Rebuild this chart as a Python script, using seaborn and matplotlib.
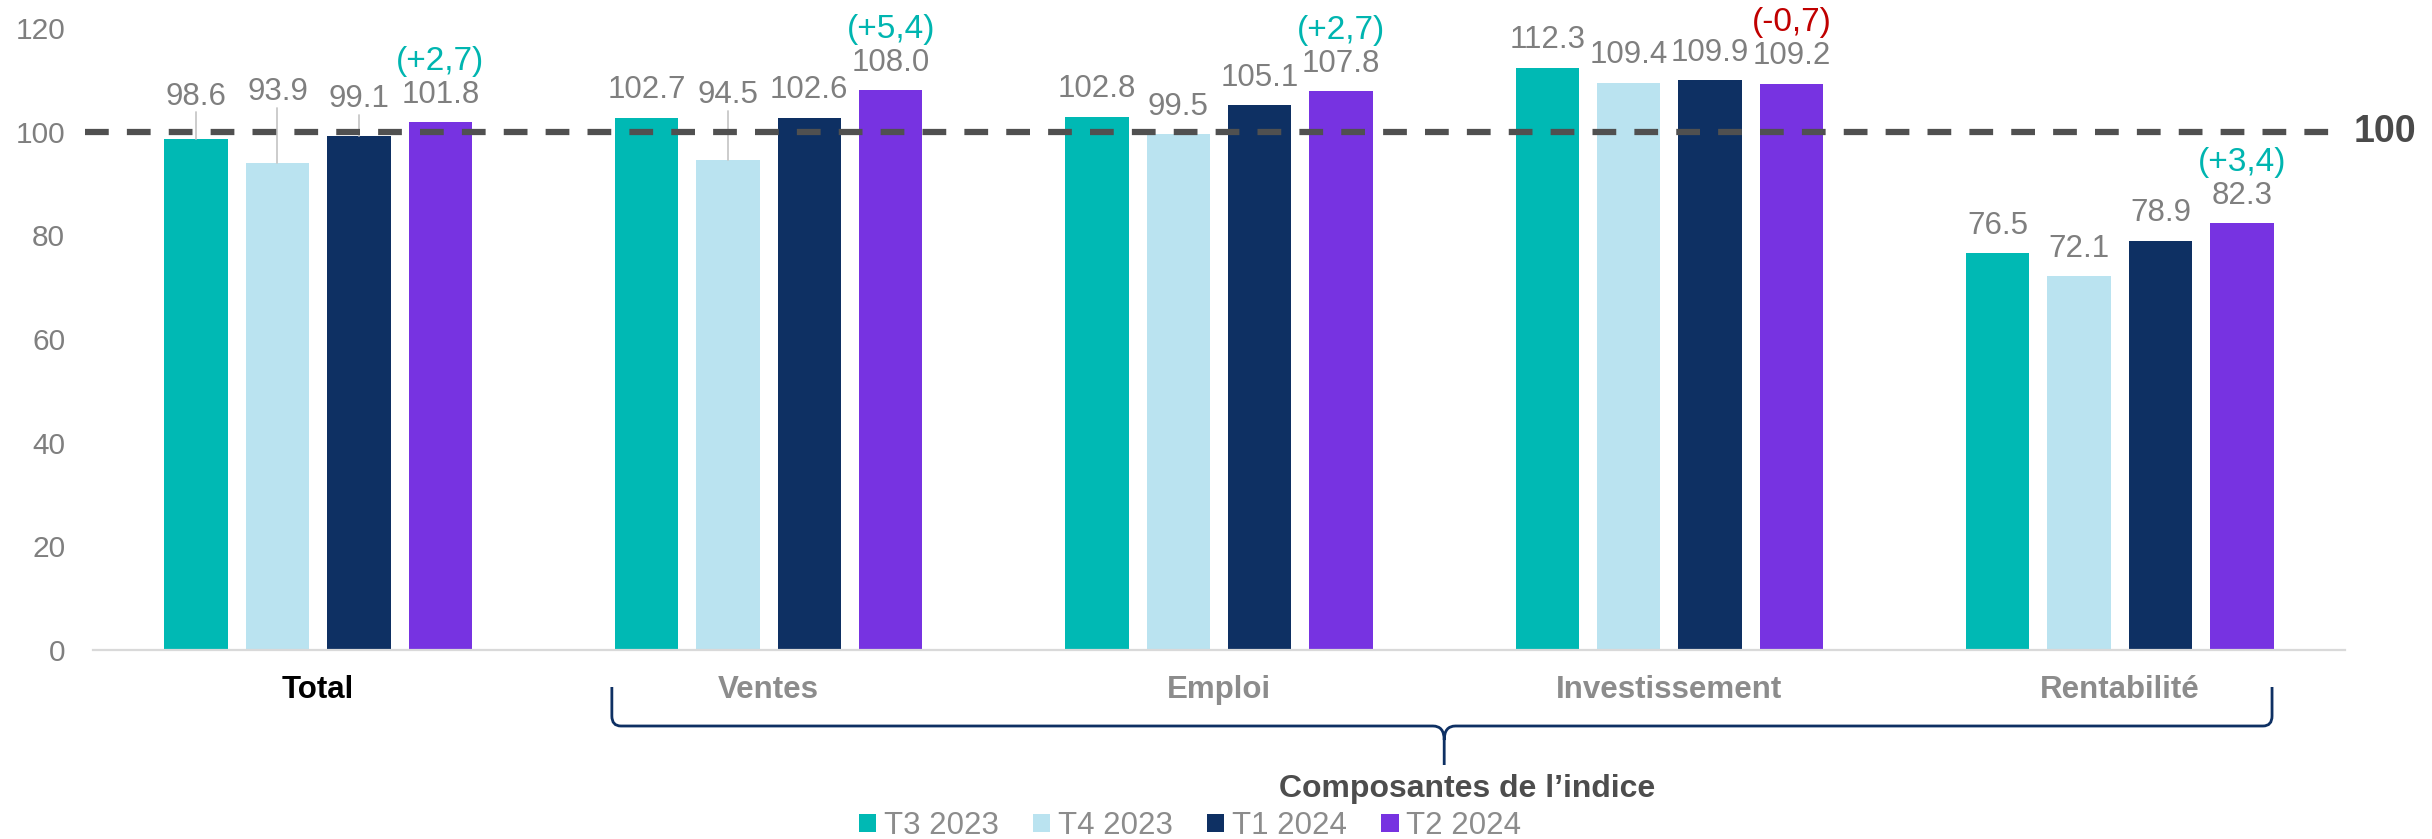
import matplotlib
matplotlib.use("Agg")
import matplotlib.pyplot as plt
import matplotlib.transforms as mtransforms
from matplotlib.path import Path
from matplotlib.patches import PathPatch
import pandas as pd
import seaborn as sns

sns.set_style("white")
plt.rcParams["font.family"] = ["Liberation Sans", "DejaVu Sans"]

# données
categories = ["Total", "Ventes", "Emploi", "Investissement", "Rentabilité"]
periods = ["T3 2023", "T4 2023", "T1 2024", "T2 2024"]
t3_2023 = [98.6, 102.7, 102.8, 112.3, 76.5]
t4_2023 = [93.9, 94.5, 99.5, 109.4, 72.1]
t1_2024 = [99.1, 102.6, 105.1, 109.9, 78.9]
t2_2024 = [101.8, 108.0, 107.8, 109.2, 82.3]
variations = ["(+2,7)", "(+5,4)", "(+2,7)", "(-0,7)", "(+3,4)"]
reference = 100
group_label = "Composantes de l\u2019indice"

colors = ["#00B9B4", "#BAE3F0", "#0E3063", "#7733E1"]
grey = "#7f7f7f"

df = pd.DataFrame({
    "categorie": categories * 4,
    "periode": [p for p in periods for _ in categories],
    "valeur": t3_2023 + t4_2023 + t1_2024 + t2_2024,
})

W, H = 2432, 839
fig = plt.figure(figsize=(W / 100, H / 100), dpi=100)
ax = fig.add_axes([93 / W, 1 - 650 / H, (2345 - 93) / W, (650 - 28) / H])

sns.barplot(data=df, x="categorie", y="valeur", hue="periode", order=categories,
            hue_order=periods, palette=colors, width=0.723, gap=0.22,
            linewidth=0, saturation=1, ax=ax)
ax.get_legend().remove()

ax.set_xlim(-0.5, 4.5)
ax.set_ylim(0, 120)
ax.set_yticks(range(0, 121, 20))
ax.set_xlabel("")
ax.set_ylabel("")
for s in ["top", "right", "left"]:
    ax.spines[s].set_visible(False)
ax.spines["bottom"].set_color("#d9d9d9")
ax.spines["bottom"].set_linewidth(1.6)
ax.tick_params(axis="y", length=0, pad=20, labelsize=21.5, labelcolor=grey)
ax.tick_params(axis="x", which="major", length=0, pad=18, labelsize=22.5)
ax.set_xticks([i - 0.5 for i in range(len(categories) + 1)], minor=True)
ax.tick_params(axis="x", which="minor", length=8, width=1.2, color="#d9d9d9", direction="out")
for i, lab in enumerate(ax.get_xticklabels()):
    lab.set_fontweight("bold")
    lab.set_color("black" if i == 0 else "#8c8c8c")

# ligne de référence 100
ax.hlines(reference, -0.518, 4.476, colors="#505050", linewidth=4.5,
          linestyles=(0, (3.8, 2.9)), zorder=5, clip_on=False)
ax.text(4.52, reference, str(reference), ha="left", va="center", fontsize=27,
        fontweight="bold", color="#4a4a4a")

# étiquettes (placement manuel des libellés proches de 100)
label_base = {(0, 0): 105.2, (0, 1): 106.1, (0, 2): 104.8, (1, 1): 105.5, (2, 1): 103.2}
leaders = [(0, 0), (0, 1), (0, 2), (1, 1)]
for h, cont in enumerate(ax.containers):
    for i, bar in enumerate(cont):
        x = bar.get_x() + bar.get_width() / 2
        v = bar.get_height()
        base = label_base.get((i, h), v + 3.8)
        ax.text(x, base, f"{v:.1f}", ha="center", va="baseline", fontsize=22.5, color=grey)
        if (i, h) in leaders:
            ax.plot([x, x], [v, base - 1.5], color="#c8c8c8", lw=1.3, zorder=1)
        if h == len(periods) - 1:
            c = "#C00000" if variations[i].startswith("(-") else "#00B5B0"
            ax.text(x, base + 8, variations[i], ha="center", va="center", fontsize=24,
                    color=c, clip_on=False)

# accolade sous les composantes
tr = mtransforms.blended_transform_factory(ax.transData, fig.transFigure)
fy = lambda py: 1 - py / H
L, R, C = 0.652, 4.338, 2.5
verts = [(L, fy(687)), (L, fy(716)), (L, fy(726)), (L + 0.02, fy(726)),
         (C - 0.025, fy(726)), (C, fy(726)), (C, fy(740)), (C, fy(765)),
         (C, fy(740)), (C, fy(726)), (C + 0.025, fy(726)),
         (R - 0.02, fy(726)), (R, fy(726)), (R, fy(716)), (R, fy(687))]
codes = [Path.MOVETO, Path.LINETO, Path.CURVE3, Path.CURVE3,
         Path.LINETO, Path.CURVE3, Path.CURVE3, Path.LINETO,
         Path.MOVETO, Path.CURVE3, Path.CURVE3,
         Path.LINETO, Path.CURVE3, Path.CURVE3, Path.LINETO]
fig.add_artist(PathPatch(Path(verts, codes), transform=tr, fill=False,
                         edgecolor="#0E3063", lw=2.0))
fig.text(1467 / W, fy(789), group_label, ha="center", va="center", fontsize=23,
         fontweight="bold", color="#4d4d4d")

handles, labels = ax.get_legend_handles_labels()
fig.legend(handles, labels, loc="center", bbox_to_anchor=(1190 / W, fy(826)), ncol=4,
           frameon=False, fontsize=22.5, labelcolor="#8c8c8c", handlelength=0.55,
           handleheight=0.55, handletextpad=0.25, columnspacing=1.1, borderpad=0)

fig.savefig("out.png", dpi=100)
